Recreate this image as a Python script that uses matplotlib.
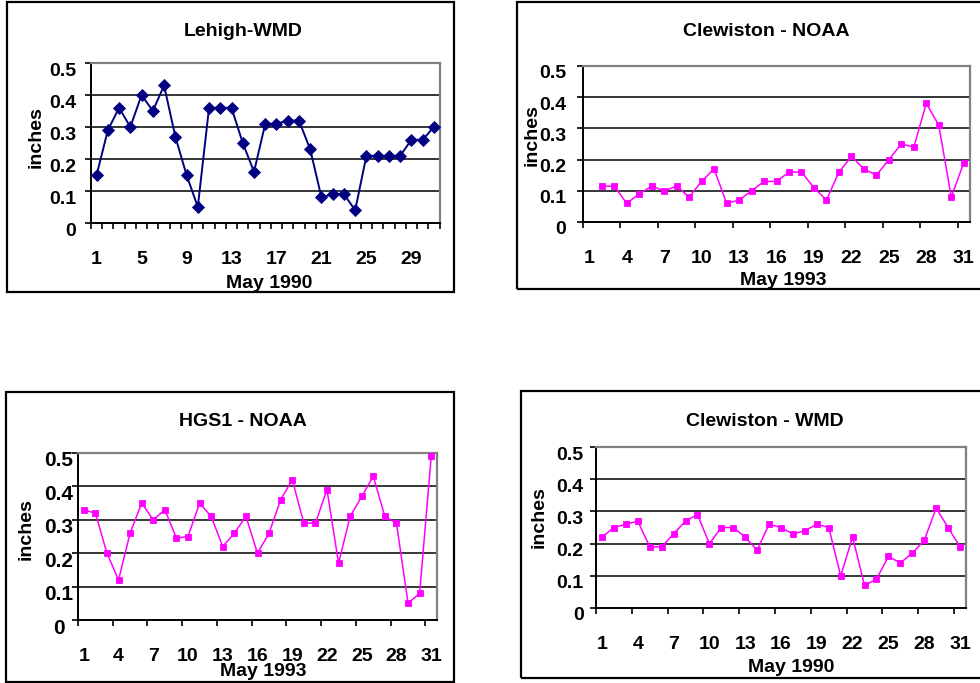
import numpy as np
import matplotlib
matplotlib.use("Agg")
import matplotlib.pyplot as plt
from matplotlib.patches import Rectangle
from matplotlib.transforms import ScaledTranslation

plt.rcParams["font.family"] = ["Liberation Sans", "DejaVu Sans"]
plt.rcParams["font.weight"] = "bold"

# Daily rainfall, inches, one value per day of May
days = list(range(1, 32))
lehigh_wmd_1990 = [0.15, 0.29, 0.36, 0.30, 0.40, 0.35, 0.43, 0.27, 0.15, 0.05,
                   0.36, 0.36, 0.36, 0.25, 0.16, 0.31, 0.31, 0.32, 0.32, 0.23,
                   0.08, 0.09, 0.09, 0.04, 0.21, 0.21, 0.21, 0.21, 0.26, 0.26,
                   0.30]
clewiston_noaa_1993 = [np.nan, 0.115, 0.115, 0.06, 0.09, 0.115, 0.10, 0.115, 0.08, 0.13,
                       0.17, 0.06, 0.07, 0.10, 0.13, 0.13, 0.16, 0.16, 0.11, 0.07,
                       0.16, 0.21, 0.17, 0.15, 0.20, 0.25, 0.24, 0.38, 0.31, 0.08,
                       0.19]
hgs1_noaa_1993 = [0.33, 0.32, 0.20, 0.12, 0.26, 0.35, 0.30, 0.33, 0.245, 0.25,
                  0.35, 0.31, 0.22, 0.26, 0.31, 0.20, 0.26, 0.36, 0.42, 0.29,
                  0.29, 0.39, 0.17, 0.31, 0.37, 0.43, 0.31, 0.29, 0.05, 0.08,
                  0.49]
clewiston_wmd_1990 = [0.22, 0.25, 0.26, 0.27, 0.19, 0.19, 0.23, 0.27, 0.29, 0.20,
                      0.25, 0.25, 0.22, 0.18, 0.26, 0.25, 0.23, 0.24, 0.26, 0.25,
                      0.10, 0.22, 0.07, 0.09, 0.16, 0.14, 0.17, 0.21, 0.31, 0.25,
                      0.19]

y_ticks = [0, 0.1, 0.2, 0.3, 0.4, 0.5]
y_tick_labels = ["0", "0.1", "0.2", "0.3", "0.4", "0.5"]

W, H = 980, 683
fig = plt.figure(figsize=(W / 100, H / 100), dpi=100)
fig.patch.set_facecolor("white")

FS = 14


def frame(l, t, r, b):
    fig.add_artist(Rectangle((l / W, 1 - b / H), (r - l) / W, (b - t) / H,
                             transform=fig.transFigure, fill=False,
                             ec="black", lw=1.6, clip_on=False))


def ftext(x, y, s, **kw):
    fig.text(x / W, 1 - y / H, s, ha="center", va="center",
             fontsize=FS, fontweight="bold", **kw)


def panel(values, title, xlabel, color, marker, ms, lw, rect, box,
          title_xy, xlabel_xy, ylabel_xy, label_step, minor_step,
          ypad, yha="right", ylabelsize=FS):
    frame(*box)
    l, t, r, b = rect
    ax = fig.add_axes([l / W, 1 - b / H, (r - l) / W, (b - t) / H])
    ax.set_xlim(0.5, 31.5)
    ax.set_ylim(0, 0.5)
    for v in y_ticks[1:-1]:
        ax.axhline(v, color="black", lw=1.1, zorder=1)
    ax.plot(days, values, color=color, lw=lw, marker=marker, ms=ms,
            mfc=color, mec=color, mew=0.6, zorder=3, clip_on=False)

    for side in ("top", "right"):
        ax.spines[side].set_color("#808080")
        ax.spines[side].set_linewidth(1.6)
    for side in ("left", "bottom"):
        ax.spines[side].set_color("black")
        ax.spines[side].set_linewidth(1.4)

    ax.set_xticks(days[::label_step])
    ax.set_xticklabels([str(d) for d in days[::label_step]])
    ax.set_xticks(np.arange(0.5, 31.6, 1)[::minor_step] if minor_step == 1
                  else np.arange(0.5, 31.0, minor_step), minor=True)
    ax.tick_params(axis="x", which="major", length=0, pad=20.5,
                   labelsize=FS)
    ax.tick_params(axis="x", which="minor", direction="out", length=4,
                   width=1.2, color="black")

    ax.set_yticks(y_ticks)
    ax.set_yticklabels(y_tick_labels)
    ax.tick_params(axis="y", direction="out", length=4, width=1.2,
                   pad=ypad, labelsize=ylabelsize)
    shift = ScaledTranslation(0, -6 / 100, fig.dpi_scale_trans)
    for lab in ax.get_yticklabels():
        lab.set_transform(lab.get_transform() + shift)
        lab.set_ha(yha)
        lab.set_fontweight("bold")
    for lab in ax.get_xticklabels():
        lab.set_fontweight("bold")

    ftext(*title_xy, title)
    ftext(*xlabel_xy, xlabel)
    ftext(*ylabel_xy, "inches", rotation=90)
    return ax


NAVY = "#000080"
MAGENTA = "#FF00FF"

panel(lehigh_wmd_1990, "Lehigh-WMD", "May 1990", NAVY, "D", 6.2, 1.4,
      rect=(91, 63, 439.5, 223), box=(7, 2, 454, 292),
      title_xy=(243, 31), xlabel_xy=(269, 283), ylabel_xy=(36, 137),
      label_step=4, minor_step=1, ypad=6.5)

panel(clewiston_noaa_1993, "Clewiston - NOAA", "May 1993", MAGENTA, "s", 4.6, 1.1,
      rect=(583, 66, 970, 222), box=(517, 2, 992, 289),
      title_xy=(766, 31), xlabel_xy=(783, 281), ylabel_xy=(532, 135),
      label_step=3, minor_step=3, ypad=8)

panel(hgs1_noaa_1993, "HGS1 - NOAA", "May 1993", MAGENTA, "s", 4.6, 1.1,
      rect=(78, 453, 437, 620), box=(6, 392, 454, 682),
      title_xy=(243, 422), xlabel_xy=(263, 671), ylabel_xy=(26, 529),
      label_step=3, minor_step=3, ypad=10, yha="center", ylabelsize=15)

panel(clewiston_wmd_1990, "Clewiston - WMD", "May 1990", MAGENTA, "s", 4.6, 1.1,
      rect=(596, 447, 966, 608), box=(521, 391, 992, 678),
      title_xy=(765, 421), xlabel_xy=(791, 668), ylabel_xy=(539, 517),
      label_step=3, minor_step=3, ypad=5)

fig.savefig("out.png", dpi=100, facecolor="white")
